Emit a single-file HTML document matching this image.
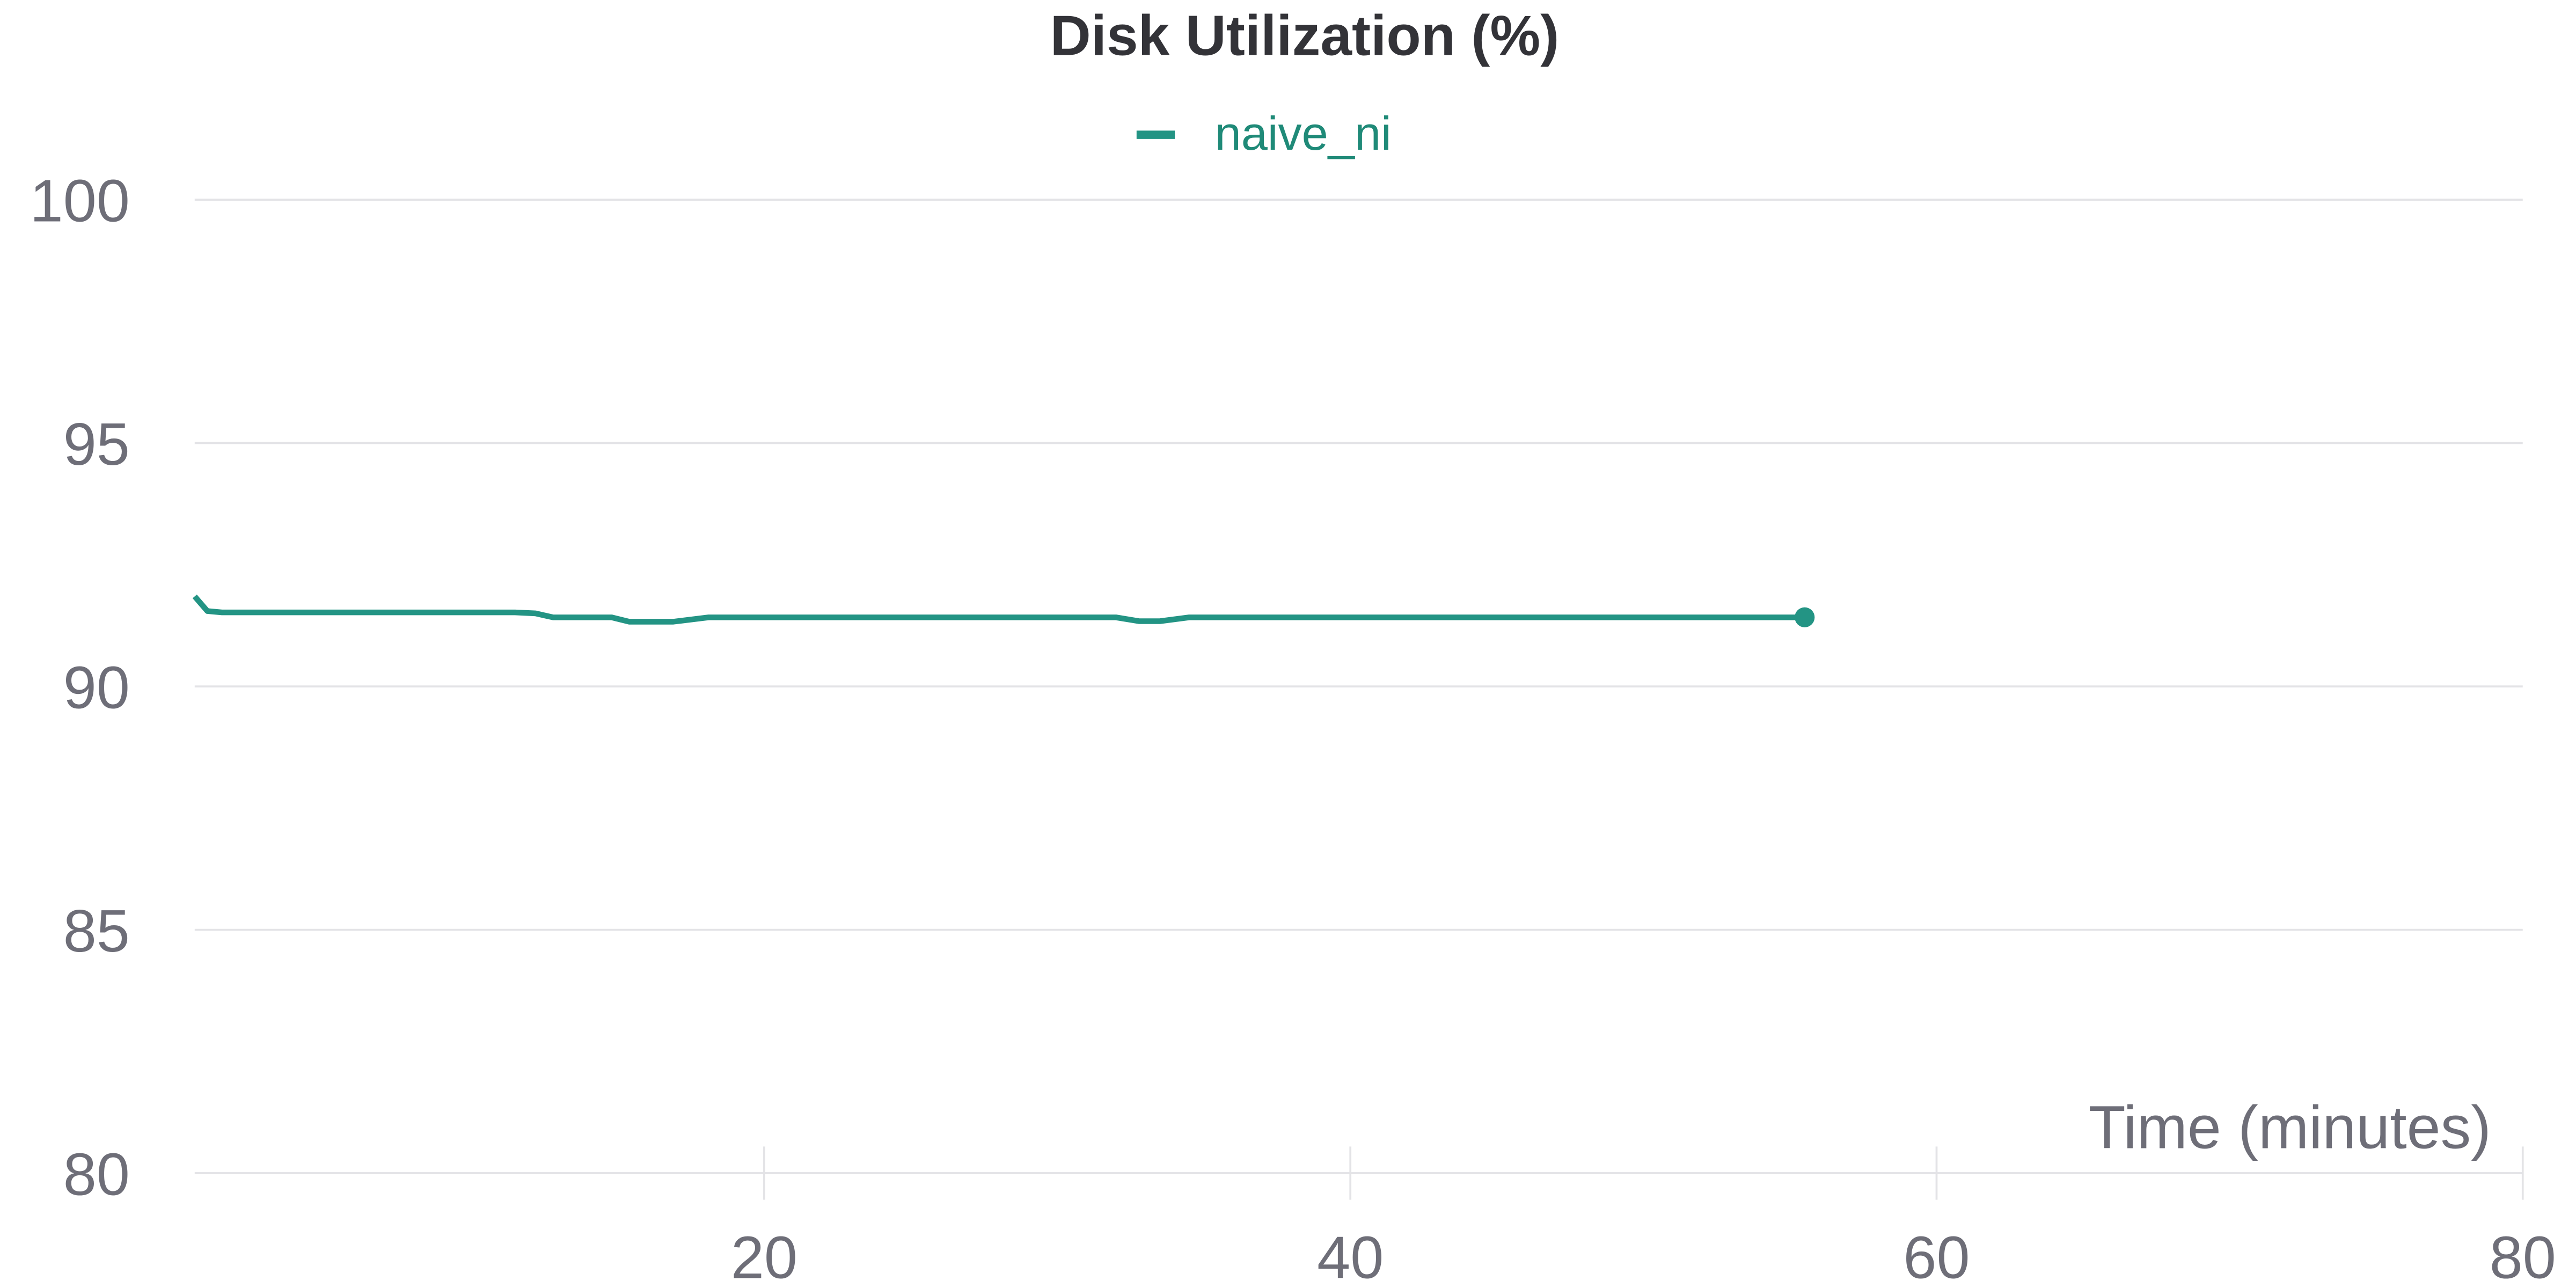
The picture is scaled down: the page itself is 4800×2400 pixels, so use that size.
<!DOCTYPE html>
<html><head><meta charset="utf-8"><style>
html,body{margin:0;padding:0;background:#fff;}
svg{display:block;font-family:"Liberation Sans",sans-serif;}
</style></head><body>
<svg id="chart" width="4800" height="2400" viewBox="0 0 1548 774" xmlns="http://www.w3.org/2000/svg">
<text x="784" y="33" text-anchor="middle" font-size="34" font-weight="bold" fill="#333338">Disk Utilization (%)</text>
<g>
<line x1="683" y1="81" x2="706" y2="81" stroke="#239484" stroke-width="5"/>
<text x="730" y="90" font-size="28.5" fill="#1f8a78">naive_ni</text>
</g>
<g id="grid"></g><g id="xaxis"></g><g id="series"></g>
<text x="1497" y="690" text-anchor="end" font-size="36.5" fill="#6e6e78">Time (minutes)</text>
</svg>
<script>
const yTicks=[80,85,90,95,100];
const xTicks=[20,40,60,80];
const times=[0.57,1,1.5,4,8,11.5,12.2,12.8,14.8,15.4,16.9,18.1,25,32,32.8,33.5,34.5,45,55.5];
const values=[91.85,91.55,91.52,91.52,91.52,91.52,91.5,91.42,91.42,91.33,91.33,91.42,91.42,91.42,91.34,91.34,91.42,91.42,91.42];
const L=117,R=1516,T=120,B=705,xMin=0.57,xMax=80,yMin=80,yMax=100;
const sx=v=>L+(v-xMin)/(xMax-xMin)*(R-L);
const sy=v=>B-(v-yMin)/(yMax-yMin)*(B-T);
const NS="http://www.w3.org/2000/svg";
function mk(t,a,p){const e=document.createElementNS(NS,t);for(const k in a)e.setAttribute(k,a[k]);p.appendChild(e);return e;}
const grid=document.getElementById('grid'),xa=document.getElementById('xaxis'),se=document.getElementById('series');
yTicks.forEach(v=>{
const g=mk('line',{x1:L,x2:R,y1:sy(v),y2:sy(v),stroke:'#e3e3e6','stroke-width':1.2},grid);


const t=mk('text',{x:78,y:sy(v)+13,'text-anchor':'end','font-size':36,fill:'#6e6e78'},grid);
t.textContent=v;


});
xTicks.forEach(v=>{
const l=mk('line',{x1:sx(v),x2:sx(v),y1:689,y2:721,stroke:'#e3e3e6','stroke-width':1.2},xa);


const t=mk('text',{x:sx(v),y:768,'text-anchor':'middle','font-size':36,fill:'#6e6e78'},xa);
t.textContent=v;


});
const d=times.map((t,i)=>(i?'L':'M')+sx(t).toFixed(1)+' '+sy(values[i]).toFixed(1)).join(' ');
const p=mk('path',{d:d,fill:'none',stroke:'#239484','stroke-width':3.4,'stroke-linejoin':'round'},se);


const n=times.length-1;
const c=mk('circle',{cx:sx(times[n]),cy:sy(values[n]),r:6,fill:'#239484'},se);


</script>
</body></html>
